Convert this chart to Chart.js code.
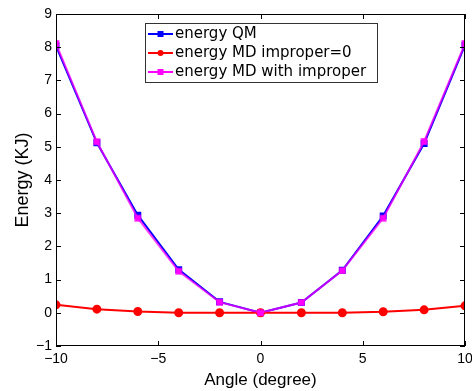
<!DOCTYPE html>
<html>
<head>
<meta charset="utf-8">
<script src="https://cdn.jsdelivr.net/npm/chart.js@4.4.1/dist/chart.umd.min.js"></script>
<style>
  html, body { margin: 0; padding: 0; background: #fff; }
  canvas { display: block; }
</style>
</head>
<body>
<canvas id="energia" width="472" height="391"></canvas>
<script>
// Datos
const angulos = [-10, -8, -6, -4, -2, 0, 2, 4, 6, 8, 10];
const energiaQM = [8.04, 5.12, 2.94, 1.30, 0.33, 0, 0.31, 1.28, 2.92, 5.10, 8.06];
const energiaMD0 = [0.24, 0.11, 0.04, 0.0, 0.0, 0, 0.0, 0.0, 0.03, 0.09, 0.21];
const energiaMDimp = [8.11, 5.15, 2.85, 1.25, 0.32, 0, 0.31, 1.27, 2.85, 5.16, 8.11];
const nombres = ['energy QM', 'energy MD improper=0', 'energy MD with improper'];
const ticksX = [-10, -5, 0, 5, 10];
const ticksY = [-1, 0, 1, 2, 3, 4, 5, 6, 7, 8, 9];

const fuente = 'Liberation Sans, Arial, sans-serif';
const fuenteLeyenda = 'DejaVu Sans, sans-serif';

const puntos = (ys) => angulos.map((x, i) => ({ x: x, y: ys[i] }));

// marco y marcas hacia adentro (estilo matlab)
const marcoPlugin = {
    id: 'marco',
    afterDatasetsDraw(chart) {
        const c = chart.ctx;
        const a = chart.chartArea;
        const sx = chart.scales.x, sy = chart.scales.y;
        c.save();
        c.strokeStyle = '#000';
        c.lineWidth = 1;
        c.strokeRect(Math.round(a.left) + 0.5, Math.round(a.top) + 0.5,
                     Math.round(a.right - a.left) - 1, Math.round(a.bottom - a.top) - 1);
        c.beginPath();
        ticksX.forEach(v => {
            const px = Math.round(sx.getPixelForValue(v)) + 0.5;
            c.moveTo(px, a.bottom); c.lineTo(px, a.bottom - 5);
            c.moveTo(px, a.top); c.lineTo(px, a.top + 5);
        });
        ticksY.forEach(v => {
            const py = Math.round(sy.getPixelForValue(v)) + 0.5;
            c.moveTo(a.left, py); c.lineTo(a.left + 5, py);
            c.moveTo(a.right, py); c.lineTo(a.right - 5, py);
        });
        c.stroke();
        c.restore();
    }
};

// leyenda dentro del grafico
const leyendaPlugin = {
    id: 'leyenda',
    afterDraw(chart) {
        const c = chart.ctx;
        const x0 = 145, y0 = 23, w = 232, h = 59;
        c.save();
        c.fillStyle = '#fff';
        c.fillRect(x0, y0, w, h);
        c.strokeStyle = '#333';
        c.lineWidth = 1;
        c.strokeRect(x0 + 0.5, y0 + 0.5, w, h);
        c.font = '15px ' + fuenteLeyenda;
        c.textBaseline = 'middle';
        chart.data.datasets.forEach((ds, i) => {
            const y = y0 + 11 + i * 19;
            c.strokeStyle = ds.backgroundColor;
            c.lineWidth = 2;
            c.beginPath();
            c.moveTo(x0 + 3, y); c.lineTo(x0 + 28, y);
            c.stroke();
            c.fillStyle = ds.backgroundColor;
            if (ds.pointStyle === 'circle') {
                c.beginPath(); c.arc(x0 + 15.5, y, 3, 0, Math.PI * 2); c.fill();
            } else {
                c.fillRect(x0 + 12.5, y - 3, 6, 6);
            }
            c.fillStyle = '#000';
            c.fillText(ds.label, x0 + 30, y);
        });
        c.restore();
    }
};

const ctx = document.getElementById('energia').getContext('2d');

const grafico = new Chart(ctx, {
    type: 'scatter',
    data: {
        datasets: [{
            label: nombres[0],
            data: puntos(energiaQM),
            borderColor: '#0000ff',
            backgroundColor: '#0000ff',
            pointStyle: 'rect',
            pointRadius: 3.5,
            borderWidth: 2,
            showLine: true,
            order: 3
        }, {
            label: nombres[1],
            data: puntos(energiaMD0),
            borderColor: '#ff0000',
            backgroundColor: '#ff0000',
            pointStyle: 'circle',
            pointRadius: 3.5,
            borderWidth: 2,
            showLine: true,
            order: 2
        }, {
            label: nombres[2],
            data: puntos(energiaMDimp),
            borderColor: 'rgba(255,0,255,0.75)',
            backgroundColor: '#ff00ff',
            pointStyle: 'rect',
            pointRadius: 3.5,
            borderWidth: 2,
            showLine: true,
            order: 1
        }]
    },
    options: {
        responsive: false,
        animation: false,
        layout: { padding: { top: 14, right: 7, left: 0, bottom: 0 } },
        plugins: {
            legend: { display: false },
            tooltip: { enabled: false }
        },
        scales: {
            x: {
                type: 'linear',
                min: -10,
                max: 10,
                afterBuildTicks: (s) => { s.ticks = ticksX.map(v => ({ value: v })); },
                afterFit: (s) => { s.height = 45; s.paddingLeft = 0; s.paddingRight = 0; },
                grid: { display: false, drawTicks: false },
                border: { display: false },
                ticks: {
                    color: '#000',
                    autoSkip: false,
                    font: { family: fuente, size: 14 },
                    padding: 5,
                    maxRotation: 0,
                    callback: (v) => (v < 0 ? '\u2212' + Math.abs(v) : v)
                },
                title: {
                    display: true,
                    text: 'Angle (degree)',
                    color: '#000',
                    font: { family: fuente, size: 17 },
                    padding: { top: 9, bottom: 0 }
                }
            },
            y: {
                type: 'linear',
                min: -1,
                max: 9,
                afterBuildTicks: (s) => { s.ticks = ticksY.map(v => ({ value: v })); },
                afterFit: (s) => { s.width = 56; s.paddingTop = 0; s.paddingBottom = 0; },
                grid: { display: false, drawTicks: false },
                border: { display: false },
                ticks: {
                    color: '#000',
                    autoSkip: false,
                    font: { family: fuente, size: 14 },
                    padding: 4,
                    callback: (v) => (v < 0 ? '\u2212' + Math.abs(v) : v)
                },
                title: {
                    display: true,
                    text: 'Energy (KJ)',
                    color: '#000',
                    font: { family: fuente, size: 18 },
                    padding: { top: 12, bottom: 0 }
                }
            }
        }
    },
    plugins: [marcoPlugin, leyendaPlugin]
});
</script>
</body>
</html>
